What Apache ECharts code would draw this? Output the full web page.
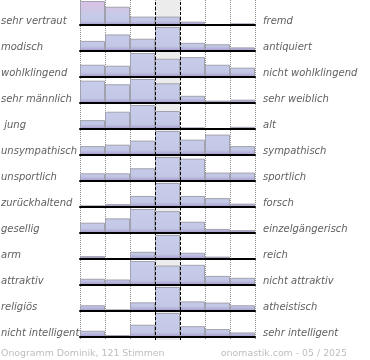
<!DOCTYPE html>
<html>
<head>
<meta charset="utf-8">
<script src="https://cdn.jsdelivr.net/npm/echarts@6/dist/echarts.min.js"></script>
<style>
  html, body { margin: 0; padding: 0; background: #fff; }
  #chart { width: 370px; height: 360px; }
</style>
</head>
<body>
<div id="chart"></div>
<script>
// ---- data ----
const scaleSteps = ['1', '2', '3', '4', '5', '6', '7'];
const leftLabels = ['sehr vertraut', 'modisch', 'wohlklingend', 'sehr männlich', ' jung', 'unsympathisch',
  'unsportlich', 'zurückhaltend', 'gesellig', 'arm', 'attraktiv', 'religiös', 'nicht intelligent'];
const rightLabels = ['fremd', 'antiquiert', 'nicht wohlklingend', 'sehr weiblich', 'alt', 'sympathisch',
  'sportlich', 'forsch', 'einzelgängerisch', 'reich', 'nicht attraktiv', 'atheistisch', 'sehr intelligent'];
const footerLeft = 'Onogramm Dominik, 121 Stimmen';
const footerRight = 'onomastik.com - 05 / 2025';

const vertraut     = [100, 76, 35, 35, 14, 0, 7];
const modisch      = [42, 69, 51, 100, 34, 28, 15];
const wohlklingend = [51, 47, 100, 76, 83, 51, 39];
const maennlich    = [93, 78, 100, 82, 30, 10, 14];
const jung         = [37, 72, 100, 75, 7, 0, 9];
const sympathisch  = [37, 43, 60, 100, 64, 85, 37];
const sportlich    = [32, 32, 53, 100, 93, 35, 35];
const forsch       = [7, 12, 46, 100, 46, 37, 14];
const gesellig     = [43, 61, 100, 91, 47, 17, 12];
const reich        = [12, 0, 30, 100, 26, 10, 0];
const attraktiv    = [26, 23, 100, 81, 84, 38, 30];
const religioes    = [24, 7, 36, 100, 40, 35, 24];
const intelligent  = [26, 8, 51, 100, 45, 33, 19];
const rowValues = [vertraut, modisch, wohlklingend, maennlich, jung, sympathisch, sportlich,
  forsch, gesellig, reich, attraktiv, religioes, intelligent];

// ---- layout ----
const L = 80, W = 175, ROW = 26, BASE0 = 25, BARH = 24;
const n = rowValues.length;
const bgIndex = n;

const grid = [], xAxis = [], yAxis = [], series = [], graphic = [];

function barGradient(i) {
  const base = BASE0 + ROW * i;
  if (i === 0) {
    return { type: 'linear', global: true, x: 0, y: 0, x2: 0, y2: base,
      colorStops: [
        { offset: 0, color: '#dcc3e4' }, { offset: 0.35, color: '#cfc6e6' },
        { offset: 0.6, color: '#c6cbe9' }, { offset: 0.84, color: '#c2c7e6' },
        { offset: 0.93, color: '#b3afd9' }, { offset: 1, color: '#a296c6' }] };
  }
  return { type: 'linear', global: true, x: 0, y: base - BARH, x2: 0, y2: base,
    colorStops: [
      { offset: 0, color: '#c7cdea' }, { offset: 0.8, color: '#c3c8e6' },
      { offset: 0.9, color: '#b4b1da' }, { offset: 1, color: '#a296c6' }] };
}

rowValues.forEach((vals, i) => {
  grid.push({ left: L, width: W, top: BASE0 + ROW * i - BARH, height: BARH });
  xAxis.push({ type: 'category', gridIndex: i, data: scaleSteps, z: 5,
    axisLine: { show: true, lineStyle: { color: '#000', width: 2 } },
    axisTick: { show: false }, axisLabel: { show: false }, splitLine: { show: false } });
  yAxis.push({ type: 'value', gridIndex: i, min: 0, max: 100, show: false });
  series.push({ type: 'bar', xAxisIndex: i, yAxisIndex: i, data: vals, barCategoryGap: '0%',
    silent: true, itemStyle: { color: barGradient(i), borderColor: '#a2a2ae', borderWidth: 1 } });
  const textTop = BASE0 + ROW * i - 8.5;
  graphic.push({ type: 'text', left: 1, top: textTop, silent: true,
    style: { text: leftLabels[i], font: 'italic 10px "DejaVu Sans"', fill: '#606060' } });
  graphic.push({ type: 'text', left: 263, top: textTop, silent: true,
    style: { text: rightLabels[i], font: 'italic 10px "DejaVu Sans"', fill: '#606060' } });
});

// background grid: column guides and highlighted middle column
const clear = 'rgba(0,0,0,0)';
grid.push({ left: L, width: W, top: 0, height: BASE0 + ROW * (n - 1) + 3 });
xAxis.push({ type: 'value', gridIndex: bgIndex, min: 0, max: 7, interval: 1,
  axisLine: { show: false }, axisTick: { show: false }, axisLabel: { show: false },
  splitLine: { show: true, lineStyle: { color: '#8a8a8a', type: [1, 1], width: 1 } },
  splitArea: { show: true, areaStyle: { color: [clear, clear, clear, '#ececec', clear, clear, clear] } } });
yAxis.push({ type: 'value', gridIndex: bgIndex, min: 0, max: 1, show: false });
series.push({ type: 'line', xAxisIndex: bgIndex, yAxisIndex: bgIndex, data: [], z: 10, silent: true,
  markLine: { symbol: ['none', 'none'], silent: true, label: { show: false },
    lineStyle: { color: '#000', type: [3, 2], width: 1 },
    data: [{ xAxis: 3 }, { xAxis: 4 }] } });

graphic.push({ type: 'text', left: 1, top: 349, silent: true,
  style: { text: footerLeft, font: '9.4px "DejaVu Sans"', fill: '#bdbdbd' } });
graphic.push({ type: 'text', right: 23, top: 349, silent: true,
  style: { text: footerRight, font: '9.4px "DejaVu Sans"', fill: '#bdbdbd' } });

const chart = echarts.init(document.getElementById('chart'), null, { renderer: 'canvas' });
chart.setOption({ animation: false, backgroundColor: '#fff', grid, xAxis, yAxis, series, graphic });
</script>
</body>
</html>
